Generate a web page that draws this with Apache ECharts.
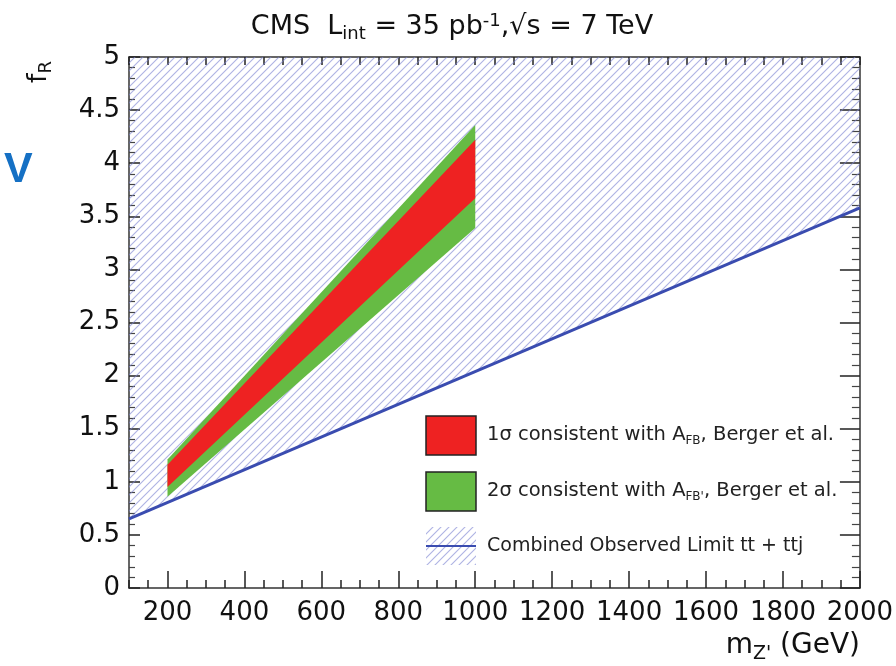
<!DOCTYPE html>
<html>
<head>
<meta charset="utf-8">
<script src="https://cdn.jsdelivr.net/npm/echarts@6/dist/echarts.min.js"></script>
<style>html,body{margin:0;padding:0;background:#fff}#c{width:896px;height:666px}</style>
</head>
<body>
<div id="c"></div>
<script>
// ---- data ----
const xMin = 100, xMax = 2000, yMin = 0, yMax = 5;
const xTickLabels = [200, 400, 600, 800, 1000, 1200, 1400, 1600, 1800, 2000];
const yTickLabels = [0, 0.5, 1, 1.5, 2, 2.5, 3, 3.5, 4, 4.5, 5];
const limitMass = [100, 2000];
const limitFR = [0.65, 3.58];
const bandMass = [200, 1000];
const sigma2Low = [0.86, 3.39];
const sigma2High = [1.21, 4.36];
const sigma1Low = [0.95, 3.67];
const sigma1High = [1.16, 4.22];

const FONT = 'DejaVu Sans';

function makeHatch() {
  const c = document.createElement('canvas');
  c.width = 8; c.height = 8;
  const g = c.getContext('2d');
  g.strokeStyle = 'rgba(125,130,210,0.62)';
  g.lineWidth = 1.1;
  g.beginPath();
  g.moveTo(-1, 9); g.lineTo(9, -1);
  g.moveTo(-1, 1); g.lineTo(1, -1);
  g.moveTo(7, 9); g.lineTo(9, 7);
  g.stroke();
  return c;
}
const hatch = makeHatch();
const hatchFill = { image: hatch, repeat: 'repeat' };

function polySeries(getPts, style, z) {
  return {
    type: 'custom',
    coordinateSystem: 'cartesian2d',
    xAxisIndex: 0, yAxisIndex: 0,
    clip: true,
    z: z,
    silent: true,
    data: [[bandMass[0], sigma2Low[0]]],
    renderItem: function (params, api) {
      const pts = getPts().map(p => api.coord(p));
      return { type: 'polygon', shape: { points: pts }, style: style };
    }
  };
}

const hatchPts = () => [[limitMass[0], limitFR[0]], [limitMass[1], limitFR[1]], [limitMass[1], yMax], [limitMass[0], yMax]];
const bandPts = (lo, hi) => () => [[bandMass[0], lo[0]], [bandMass[1], lo[1]], [bandMass[1], hi[1]], [bandMass[0], hi[0]]];

const axisLineStyle = { color: '#333', width: 1.5 };
const tickStyle = { color: '#222', width: 1.5 };

const chart = echarts.init(document.getElementById('c'));
chart.setOption({
  animation: false,
  backgroundColor: '#fff',
  grid: { left: 129, right: 34, top: 57, bottom: 78 },
  xAxis: [
    {
      type: 'value', position: 'bottom', min: xMin, max: xMax, interval: 50,
      axisLine: { show: true, onZero: false, lineStyle: axisLineStyle },
      axisTick: { show: true, inside: true, length: 8, lineStyle: tickStyle },
      axisLabel: { show: true, customValues: xTickLabels, margin: 12, fontSize: 26, color: '#111', fontFamily: FONT,
        formatter: v => String(v) },
      splitLine: { show: false }
    },
    {
      type: 'value', position: 'bottom', min: xMin, max: xMax,
      axisLine: { show: false, onZero: false },
      axisTick: { show: true, inside: true, length: 17, customValues: xTickLabels, lineStyle: tickStyle },
      axisLabel: { show: false },
      splitLine: { show: false }
    },
    {
      type: 'value', position: 'top', min: xMin, max: xMax, interval: 50,
      axisLine: { show: true, onZero: false, lineStyle: axisLineStyle },
      axisTick: { show: true, inside: true, length: 8, lineStyle: tickStyle },
      axisLabel: { show: false },
      splitLine: { show: false }
    }
  ],
  yAxis: [
    {
      type: 'value', position: 'left', min: yMin, max: yMax, interval: 0.5,
      axisLine: { show: true, onZero: false, lineStyle: axisLineStyle },
      axisTick: { show: true, inside: true, length: 11, lineStyle: tickStyle },
      minorTick: { show: true, splitNumber: 5, length: 6, lineStyle: { color: '#444', width: 1.2 } },
      axisLabel: { show: true, margin: 9, fontSize: 26, color: '#111', fontFamily: FONT,
        formatter: v => (yTickLabels.indexOf(v) >= 0 ? String(v) : '') },
      splitLine: { show: false }
    },
    {
      type: 'value', position: 'right', min: yMin, max: yMax, interval: 0.5,
      axisLine: { show: true, onZero: false, lineStyle: axisLineStyle },
      axisTick: { show: true, inside: true, length: 20, lineStyle: tickStyle },
      minorTick: { show: true, splitNumber: 5, length: 8, lineStyle: { color: '#444', width: 1.2 } },
      axisLabel: { show: false },
      splitLine: { show: false }
    }
  ],
  series: [
    polySeries(hatchPts, { fill: hatchFill, stroke: null }, 1),
    polySeries(bandPts(sigma2Low, sigma2High), { fill: '#66bb44', stroke: null }, 2),
    polySeries(bandPts(sigma1Low, sigma1High), { fill: '#ee2222', stroke: null }, 3),
    {
      type: 'line', xAxisIndex: 0, yAxisIndex: 0, z: 4,
      data: limitMass.map((m, i) => [m, limitFR[i]]),
      symbol: 'none', silent: true,
      lineStyle: { color: '#3a4cb0', width: 3 }
    }
  ],
  graphic: [
    // title
    { type: 'text', x: 452, y: 27, z: 10,
      style: { text: '{a|CMS  L}{s|int}{a| = 35 pb}{p|-1}{a|,√s = 7 TeV}', align: 'center', verticalAlign: 'middle',
        rich: {
          a: { fontSize: 27, fontFamily: FONT, fill: '#111' },
          s: { fontSize: 18, fontFamily: FONT, fill: '#111', padding: [14, 0, 0, 0] },
          p: { fontSize: 18, fontFamily: FONT, fill: '#111', padding: [0, 0, 12, 0] }
        } } },
    // y axis name
    { type: 'text', x: 39, y: 72, rotation: Math.PI / 2, z: 10,
      style: { text: '{a|f}{s|R}', align: 'center', verticalAlign: 'middle',
        rich: {
          a: { fontSize: 27, fontFamily: FONT, fill: '#111' },
          s: { fontSize: 18, fontFamily: FONT, fill: '#111', padding: [14, 0, 0, 0] }
        } } },
    // x axis name
    { type: 'text', x: 860, y: 646, z: 10,
      style: { text: '{a|m}{s|Z\'}{a| (GeV)}', align: 'right', verticalAlign: 'middle',
        rich: {
          a: { fontSize: 28, fontFamily: FONT, fill: '#111' },
          s: { fontSize: 19, fontFamily: FONT, fill: '#111', padding: [16, 0, 0, 0] }
        } } },
    // blue V (cropped artifact)
    { type: 'text', left: 4, top: 149, z: 10,
      style: { text: 'V', font: 'bold 43px Liberation Sans', fill: '#1570c4' } },
    // legend
    { type: 'rect', shape: { x: 426, y: 416, width: 50, height: 39 }, z: 10,
      style: { fill: '#ee2222', stroke: '#222', lineWidth: 1.5 } },
    { type: 'rect', shape: { x: 426, y: 472, width: 50, height: 39 }, z: 10,
      style: { fill: '#66bb44', stroke: '#222', lineWidth: 1.5 } },
    { type: 'rect', shape: { x: 426, y: 527, width: 50, height: 38 }, z: 10,
      style: { fill: hatchFill, stroke: null } },
    { type: 'line', shape: { x1: 426, y1: 546, x2: 476, y2: 546 }, z: 11,
      style: { stroke: '#3a4cb0', lineWidth: 2 } },
    { type: 'text', x: 487, y: 435, z: 10,
      style: { text: '{a|1σ consistent with A}{s|FB}{a|, Berger et al.}', verticalAlign: 'middle',
        rich: {
          a: { fontSize: 19.5, fontFamily: FONT, fill: '#222' },
          s: { fontSize: 12, fontFamily: FONT, fill: '#222', padding: [11, 0, 0, 0] }
        } } },
    { type: 'text', x: 487, y: 491, z: 10,
      style: { text: '{a|2σ consistent with A}{s|FB\'}{a|, Berger et al.}', verticalAlign: 'middle',
        rich: {
          a: { fontSize: 19.5, fontFamily: FONT, fill: '#222' },
          s: { fontSize: 12, fontFamily: FONT, fill: '#222', padding: [11, 0, 0, 0] }
        } } },
    { type: 'text', x: 487, y: 546, z: 10,
      style: { text: 'Combined Observed Limit tt + ttj', verticalAlign: 'middle',
        font: '19px ' + FONT, fill: '#222' } }
  ]
});
</script>
</body>
</html>
